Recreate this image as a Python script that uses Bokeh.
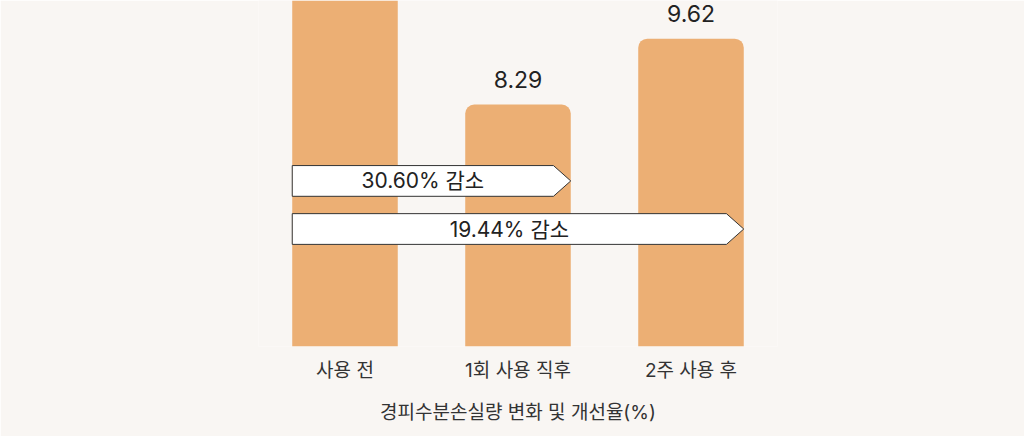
from bokeh.plotting import figure
from bokeh.models import Range1d, ColumnDataSource, FixedTicker
from bokeh.core.properties import value
from bokeh.embed import file_html
from bokeh.resources import INLINE

# ---- data ----
categories = ["사용 전", "1회 사용 직후", "2주 사용 후"]
tewl_values = [11.94, 8.29, 9.62]
value_labels = ["11.94", "8.29", "9.62"]
reduction_labels = ["30.60% 감소", "19.44% 감소"]
reduction_targets = [1, 2]          # index of bar the arrow points to
axis_title = "경피수분손실량 변화 및 개선율(%)"

# ---- style ----
BG = "#f9f6f3"
BAR = "#ecaf74"
TXT = "#222222"
FONT = "Inter, Noto Sans CJK KR"
BAR_W = 0.61
Y0, Y1 = 3.41, 10.39
ARROW_ROWS = [(6.44, 7.06), (5.47, 6.09)]   # (bottom, top) of each arrow band
TIP = 0.10

xs = list(range(len(categories)))

p = figure(width=1024, height=436, output_backend="svg", toolbar_location=None,
           x_range=Range1d(-0.5, 2.5), y_range=Range1d(Y0, Y1),
           y_axis_location=None, min_border_left=258, min_border_right=247,
           min_border_top=0, min_border_bottom=90,
           background_fill_color=BG, border_fill_color=BG, outline_line_color=None)
p.grid.visible = False

# bars whose top lies inside the frame get rounded tops; taller ones are cut by the frame
inside = [i for i, v in enumerate(tewl_values) if v <= Y1]
outside = [i for i, v in enumerate(tewl_values) if v > Y1]

src_in = ColumnDataSource(dict(x=[xs[i] for i in inside],
                               top=[tewl_values[i] for i in inside],
                               lab=[value_labels[i] for i in inside]))
src_out = ColumnDataSource(dict(x=[xs[i] for i in outside],
                                top=[tewl_values[i] for i in outside]))
p.vbar(x="x", top="top", bottom=Y0, width=BAR_W, source=src_in,
       fill_color=BAR, line_color=None, border_radius=(9, 9, 0, 0))
p.vbar(x="x", top="top", bottom=Y0, width=BAR_W, source=src_out,
       fill_color=BAR, line_color=None)
p.text(x="x", y="top", text="lab", source=src_in, text_align="center",
       text_baseline="alphabetic", y_offset=-25, text_font=value(FONT),
       text_font_size="23px", text_color=TXT)

left = xs[0] - BAR_W / 2
for lab, tgt, (yb, yt) in zip(reduction_labels, reduction_targets, ARROW_ROWS):
    tip = xs[tgt] + BAR_W / 2
    body = tip - TIP
    ym = (yb + yt) / 2
    p.patch([left, body, tip, body, left], [yt, yt, ym, yb, yb],
            fill_color="white", line_color="#333333", line_width=1)
    p.text(x=[(left + body) / 2], y=[ym], text=[lab], text_align="center",
           text_baseline="middle", text_font=value(FONT), text_font_size="21px",
           text_color=TXT)

ax = p.xaxis[0]
ax.ticker = FixedTicker(ticks=xs)
ax.major_label_overrides = {i: c for i, c in enumerate(categories)}
ax.axis_line_color = None
ax.major_tick_line_color = None
ax.minor_tick_line_color = None
ax.major_label_text_font = FONT
ax.major_label_text_font_size = "19px"
ax.major_label_text_color = "#333333"
ax.major_label_standoff = 6
ax.axis_label = axis_title
ax.axis_label_text_font = FONT
ax.axis_label_text_font_size = "19px"
ax.axis_label_text_font_style = "normal"
ax.axis_label_text_color = "#333333"
ax.axis_label_standoff = 16

open("out.html", "w").write(file_html(p, INLINE))
